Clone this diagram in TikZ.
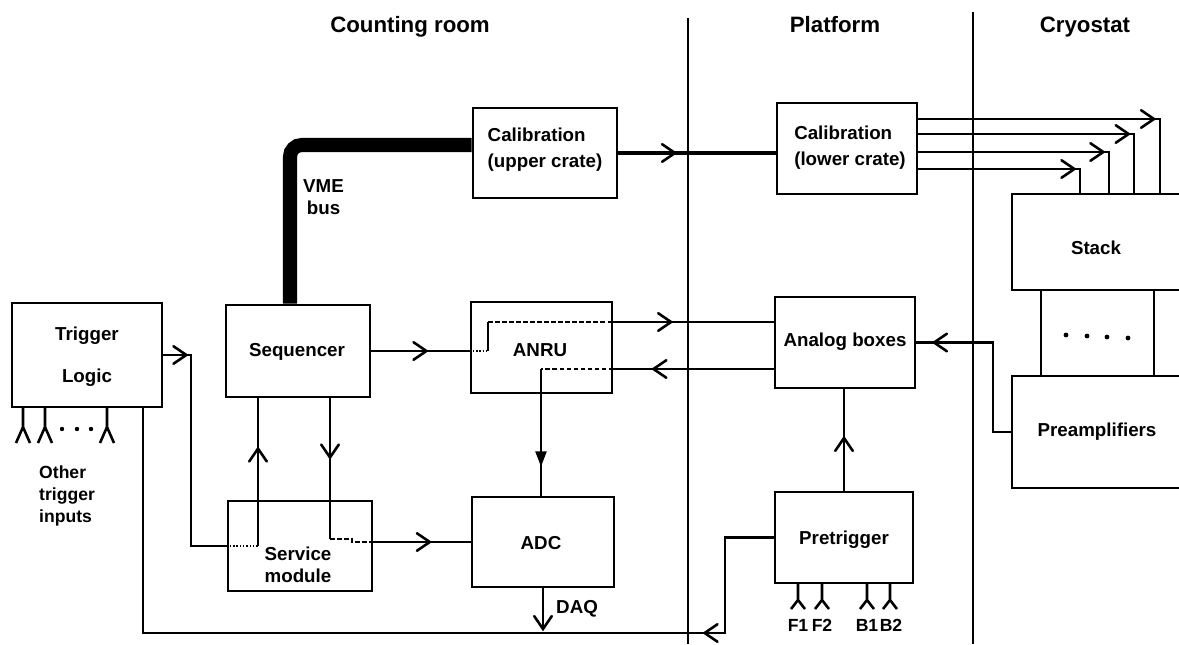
\documentclass[tikz,border=0pt]{standalone}
\usepackage{fontspec}
\setmainfont{Liberation Sans}
\usetikzlibrary{fit,calc}
\newcommand\bxfont{\bfseries\fontsize{16}{19}\selectfont}
\newcommand\hdfont{\bfseries\fontsize{19}{22}\selectfont}
\newcommand\smfont{\bfseries\fontsize{15}{18.5}\selectfont}
\begin{document}
\begin{tikzpicture}[x=0.03cm,y=-0.03cm]
\tikzset{
 box/.style={draw, line width=2.4pt, inner sep=0pt},
 lbl/.style={font=\bxfont, align=center, inner sep=0pt},
 hdr/.style={font=\hdfont, anchor=base, inner sep=0pt},
 conn/.style={line width=2.2pt},
 inner/.style={line width=1.3pt, dash pattern=on 4pt off 2pt},
 dots/.style={line width=1.3pt, dash pattern=on 1.2pt off 1.6pt},
 vme/.style={line width=12pt, rounded corners=10pt},
 divider/.style={line width=2pt},
 along/.style={sloped, allow upside down},
 chev/.pic={\draw[line width=2.2pt, line cap=round] (-11pt,7.5pt) -- (0pt,0pt) -- (-11pt,-7.5pt);},
 tri/.pic={\fill (-13pt,5pt) -- (0pt,0pt) -- (-13pt,-5pt) -- cycle;},
 fork/.pic={\draw[line width=2.2pt] (0,0) -- (0,20) (-7,36) -- (0,20) -- (7,36);},
 sfork/.pic={\draw[line width=2.2pt] (0,0) -- (0,17) (-7,26) -- (0,17) -- (7,26);},
}
\useasboundingbox (0,0) rectangle (1179,644);
\clip (0,0) rectangle (1179,644);

% headers and dividers
\node[hdr] (h1) at (410,32) {Counting room};
\node[hdr] (h2) at (835,32) {Platform};
\node[hdr] (h3) at (1085,32) {Cryostat};
\draw[divider] (688,18) -- (688,644);
\draw[divider] (973,12) -- (973,644);

% boxes
\node[box, fit={(12,303)(162,407)}] (trig) {};
\node[box, fit={(226,305)(370,397)}] (seq) {};
\node[box, fit={(228,501)(372,591)}] (serv) {};
\node[box, fit={(473,108)(617,198)}] (cup) {};
\node[box, fit={(777,103)(917,194)}] (clow) {};
\node[box, fit={(471,302)(612,393)}] (anru) {};
\node[box, fit={(472,497)(614,587)}] (adc) {};
\node[box, fit={(775,297)(915,388)}] (ana) {};
\node[box, fit={(775,492)(913,583)}] (pre) {};
\node[box, fit={(1012,194)(1200,290)}] (stack) {};
\node[box, fit={(1012,376)(1200,488)}] (preamp) {};

% box texts
\node[lbl] (trigt) at (87,357) {Trigger\\[17pt]Logic};
\node[lbl] (seqt) at (297,352) {Sequencer};
\node[lbl] (servt) at (298,565) {Service\\module};
\node[lbl, align=left] (cupt) at (545,150) {Calibration\\[3pt](upper crate)};
\node[lbl, align=left] (clowt) at (850,148) {Calibration\\[3pt](lower crate)};
\node[lbl] (anrut) at (540,350) {ANRU};
\node[lbl] (adct) at (541,543) {ADC};
\node[lbl] (anat) at (845,342) {Analog boxes};
\node[lbl] (pret) at (844,540) {Pretrigger};
\node[lbl] (stackt) at (1096,248) {Stack};
\node[lbl] (preampt) at (1097,432) {Preamplifiers};

% labels
\node[lbl, anchor=north west] (vmel) at (303,179) {VME\\bus};
\node[font=\smfont, align=left, anchor=north west, inner sep=0pt] (other) at (39,466) {Other\\trigger\\inputs};
\node[lbl, anchor=west] (daql) at (556,609) {DAQ};
\node[font=\smfont, inner sep=0pt] (f1) at (798,625) {F1};
\node[font=\smfont, inner sep=0pt] (f2) at (822,625) {F2};
\node[font=\smfont, inner sep=0pt] (b1) at (867,625) {B1};
\node[font=\smfont, inner sep=0pt] (b2) at (891,625) {B2};

% coordinates
\coordinate (vc) at (290,145);
\coordinate (tA) at (191,355);
\coordinate (sA) at (258,546);
\coordinate (sB) at (330,539);
\coordinate (sC) at (352,539);
\coordinate (sD) at (352,542);
\coordinate (aA) at (488,351);
\coordinate (aC) at (488,322);
\coordinate (aD) at (541,369);
\coordinate (daq) at (543,629);
\coordinate (pA) at (993,432);
\coordinate (pB) at (725,633);
\coordinate (tB) at (143,633);
\coordinate (k1) at (1160,119);
\coordinate (k2) at (1134,134);
\coordinate (k3) at (1109,152);
\coordinate (k4) at (1080,169);
\coordinate (d1) at (1041,0);
\coordinate (d2) at (1154,0);

% VME bus
\draw[vme] (vc |- seq.north) -- (vc) -- (vc -| cup.west);

% calibration crates
\draw[line width=3.2pt] (cup.east) -- (cup.east -| clow.west) pic[pos=.36,along]{chev};
\draw[conn] (k1 -| clow.east) -- (k1) pic[pos=.975,along]{chev} -- (k1 |- stack.north);
\draw[conn] (k2 -| clow.east) -- (k2) pic[pos=.975,along]{chev} -- (k2 |- stack.north);
\draw[conn] (k3 -| clow.east) -- (k3) pic[pos=.97,along]{chev} -- (k3 |- stack.north);
\draw[conn] (k4 -| clow.east) -- (k4) pic[pos=.965,along]{chev} -- (k4 |- stack.north);

% stack - preamplifiers
\draw[conn] (d1 |- stack.south) -- (d1 |- preamp.north);
\draw[conn] (d2 |- stack.south) -- (d2 |- preamp.north);
\foreach \x/\y in {1066/335,1087/336,1107/337,1128/338} \fill (\x,\y) circle (2.4);

% trigger -> service -> sequencer
\draw[conn] (trig.east) -- (tA) pic[pos=.83,along]{chev} |- (serv.west);
\draw[dots] (serv.west) -- (sA);
\draw[conn] (sA) -- (sA |- seq.south) pic[pos=.66,along]{chev};

% sequencer -> service -> ADC
\draw[conn] (sB |- seq.south) -- (sB) pic[pos=.42,along]{chev};
\draw[inner] (sB) -- (sC) -- (sD) -- (serv.east |- adc.west);
\draw[conn] (serv.east |- adc.west) -- (adc.west) pic[pos=.58,along]{chev};

% sequencer -> ANRU -> analog boxes
\draw[conn] (seq.east) -- (seq.east -| anru.west) pic[pos=.56,along]{chev};
\draw[dots] (seq.east -| anru.west) -- (aA);
\draw[conn] (aA) -- (aC);
\draw[inner] (aC) -- (aC -| anru.east);
\draw[conn] (aC -| anru.east) -- (aC -| ana.west) pic[pos=.36,along]{chev};

% analog boxes -> ANRU -> ADC
\draw[conn] (aD -| ana.west) -- (aD -| anru.east) pic[pos=.75,along]{chev};
\draw[inner] (aD -| anru.east) -- (aD);
\draw[conn] (aD) -- (aD |- adc.north) pic[pos=.77,along]{tri};
\draw[conn] (adc.south) -- (daq) pic[pos=1,along]{chev};

% pretrigger
\draw[conn] (pre.north) -- (pre.north |- ana.south) pic[pos=.52,along]{chev};
\draw[conn] (pre.west) -| (pB) -- (tB) pic[pos=.035,along]{chev} -- (tB |- trig.south);

% preamplifiers -> analog boxes
\draw[conn] (preamp.west) -- (pA) |- (ana.east) pic[pos=.885,along]{chev};

% trigger inputs
\pic at (23,407) {fork};
\pic at (45,407) {fork};
\pic at (107,407) {fork};
\foreach \x in {62,77,91} \fill (\x,429) circle (2.2);
\pic at (798,583) {sfork};
\pic at (822,583) {sfork};
\pic at (867,583) {sfork};
\pic at (890,583) {sfork};
\end{tikzpicture}
\end{document}
